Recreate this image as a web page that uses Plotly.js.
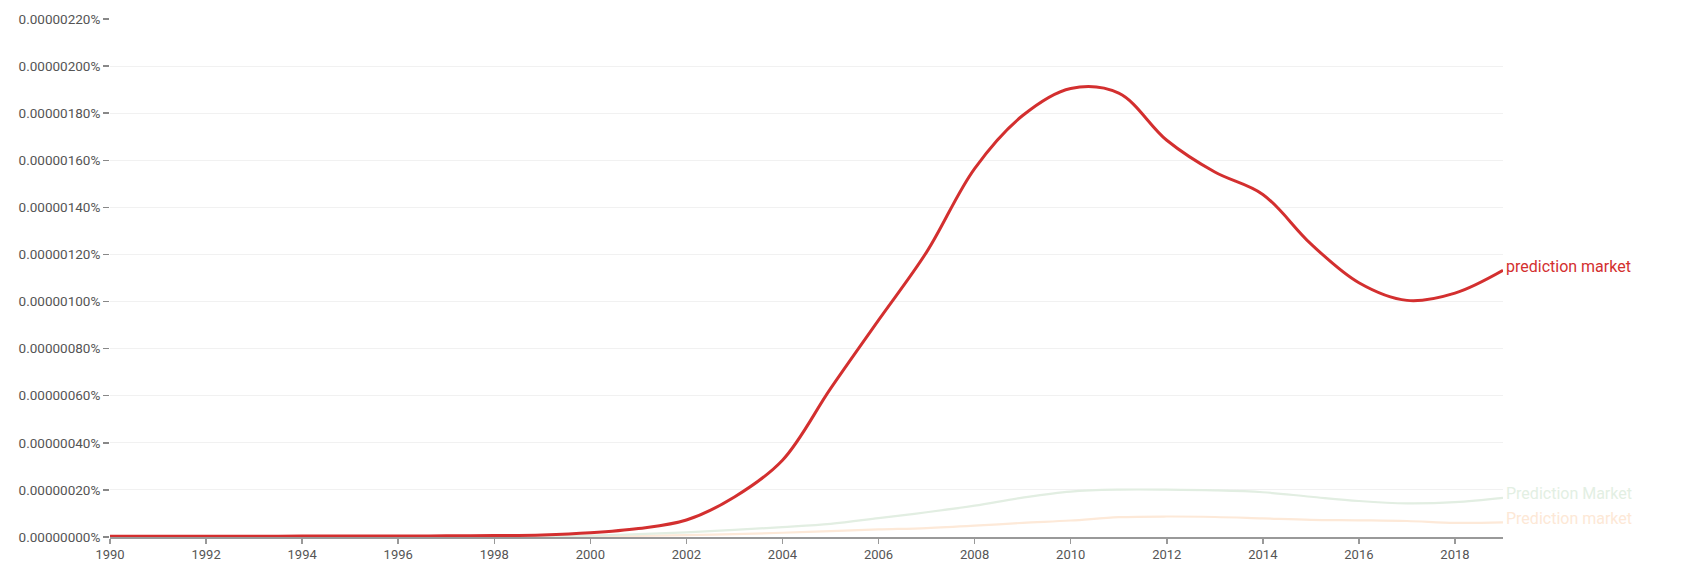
<!DOCTYPE html>
<html>
<head>
<meta charset="utf-8">
<script src="https://cdn.plot.ly/plotly-3.0.1.min.js"></script>
<style>
  html, body { margin: 0; padding: 0; background: #fff; }
  #myDiv { width: 1686px; height: 571px; }
</style>
</head>
<body>
<div id="myDiv"></div>
<script>
// Years on the x axis
var years = [1990, 1991, 1992, 1993, 1994, 1995, 1996, 1997, 1998, 1999,
  2000, 2001, 2002, 2003, 2004, 2005, 2006, 2007, 2008, 2009,
  2010, 2011, 2012, 2013, 2014, 2015, 2016, 2017, 2018, 2019];

// Frequencies in percent
var lowerCase = [0.000000003, 0.000000003, 0.000000003, 0.000000003, 0.000000004, 0.000000004, 0.000000004, 0.000000005, 0.000000006, 0.000000009,
  0.000000018, 0.000000036, 0.000000072, 0.000000170, 0.000000326, 0.000000630, 0.000000921, 0.00000121, 0.000001565, 0.00000179,
  0.000001905, 0.000001885, 0.000001685, 0.00000155, 0.000001455, 0.000001245, 0.00000108, 0.000001005, 0.000001036, 0.000001133];

var titleCase = [0, 0, 0, 0, 0, 0, 0, 0, 0.000000001, 0.000000003,
  0.000000006, 0.000000012, 0.000000020, 0.000000030, 0.000000042, 0.000000056, 0.000000080, 0.000000105, 0.000000133, 0.000000167,
  0.000000193, 0.000000201, 0.000000201, 0.000000198, 0.000000190, 0.000000171, 0.000000153, 0.000000143, 0.000000148, 0.000000166];

var firstCap = [0, 0, 0, 0, 0, 0, 0, 0, 0, 0.000000001,
  0.000000003, 0.000000005, 0.000000008, 0.000000012, 0.000000018, 0.000000025, 0.000000032, 0.000000038, 0.000000048, 0.000000060,
  0.000000070, 0.000000084, 0.000000087, 0.000000085, 0.000000079, 0.000000073, 0.000000071, 0.000000068, 0.000000060, 0.000000062];

var names = ['prediction market', 'Prediction Market', 'Prediction market'];
var colors = ['#d32f2f', '#e2eee2', '#fde9d8'];
var labelColors = ['#d32f2f', '#e3efe3', '#fde8d6'];

var tickVals = [0, 0.0000002, 0.0000004, 0.0000006, 0.0000008, 0.000001,
  0.0000012, 0.0000014, 0.0000016, 0.0000018, 0.000002, 0.0000022];
var tickText = tickVals.map(function (v) { return v.toFixed(8) + '%'; });

var xTicks = [1990, 1992, 1994, 1996, 1998, 2000, 2002, 2004, 2006, 2008, 2010, 2012, 2014, 2016, 2018];

// faint ones first so the red line sits on top
var series = [firstCap, titleCase, lowerCase];
var order = [2, 1, 0];

var data = [];
for (var i = 0; i < series.length; i++) {
  var k = order[i];
  data.push({
    x: years,
    y: series[i],
    name: names[k],
    type: 'scatter',
    mode: 'lines',
    line: {color: colors[k], width: k === 0 ? 3 : 2.2, shape: 'spline', smoothing: 1},
    hoverinfo: 'skip'
  });
}

// Labels at the end of each line
var ends = [lowerCase, titleCase, firstCap];
var annotations = ends.map(function (s, k) {
  return {
    x: 2019, y: s[s.length - 1], xref: 'x', yref: 'y', text: names[k], showarrow: false,
    xanchor: 'left', yanchor: 'middle', xshift: 1, yshift: 4,
    font: {family: 'Roboto, sans-serif', size: 16, color: labelColors[k]}
  };
});

var layout = {
  width: 1686,
  height: 571,
  margin: {l: 110, r: 183, t: 19, b: 34},
  paper_bgcolor: '#fff',
  plot_bgcolor: '#fff',
  showlegend: false,
  font: {family: 'Roboto, sans-serif', size: 13, color: '#555'},
  xaxis: {
    range: [1990, 2019],
    tickmode: 'array',
    tickvals: xTicks,
    ticks: 'outside', ticklen: 5, tickwidth: 1.5, tickcolor: '#999',
    showgrid: false, zeroline: false,
    showline: true, linecolor: '#999', linewidth: 1.5,
    tickfont: {size: 13, color: '#555'}
  },
  yaxis: {
    range: [0, 0.0000022],
    tickmode: 'array',
    tickvals: tickVals,
    ticktext: tickText,
    ticks: 'outside', ticklen: 6, tickwidth: 1.5, tickcolor: '#888',
    showgrid: true, gridcolor: '#f1f1f1', gridwidth: 1,
    zeroline: false, showline: false,
    tickfont: {size: 13.5, color: '#555'}
  },
  annotations: annotations
};

Plotly.newPlot('myDiv', data, layout, {staticPlot: true, displayModeBar: false});
</script>
</body>
</html>
